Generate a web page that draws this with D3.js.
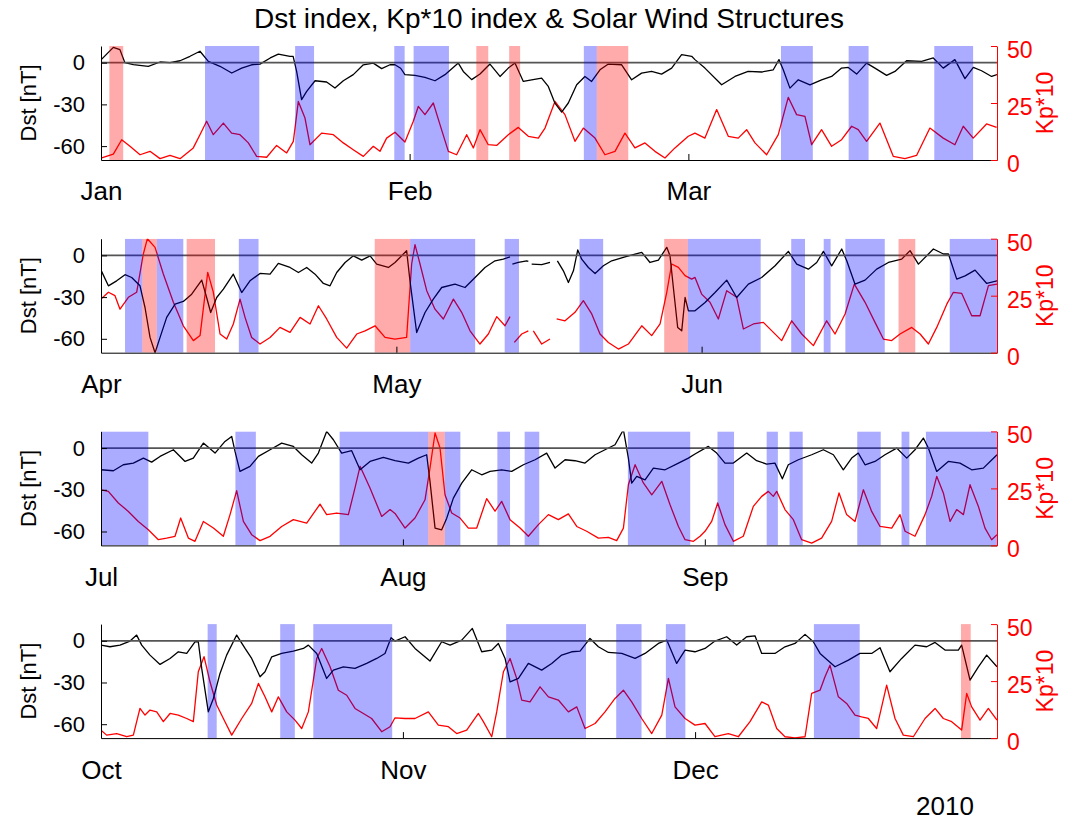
<!DOCTYPE html>
<html>
<head>
<meta charset="utf-8">
<script src="https://cdn.jsdelivr.net/npm/d3@7"></script>
<style>
  body { margin: 0; background: #fff; }
  svg { display: block; font-family: "Liberation Sans", Arial, sans-serif; }
</style>
</head>
<body>
<svg id="chart" width="1083" height="824"></svg>
<script>
// ---- Labels and ticks ----
const title = "Dst index, Kp*10 index & Solar Wind Structures";
const year = 2009;
const quarterStart = [0, 3, 6, 9];            // month index of each panel's first month
const monthNames = ["Jan","Feb","Mar","Apr","May","Jun","Jul","Aug","Sep","Oct","Nov","Dec"];
const dstTicks = [-60, -30, 0];
const kpTicks = [0, 25, 50];
const dstDomain = [-70, 12];
const kpDomain = [0, 50];
const yearLabel = "2010";

// ---- Dst [nT]: [day of quarter, value]; null marks a data gap ----
const dstQ1 = [[0,2],[1.24,11],[1.9,9.4],[2.4,0],[3.25,-1.4],[4.75,-2.6],[5.93,0.5],[6.93,0],[7.94,1.4],[8.94,4.6],[9.94,8.2],[10.78,1],[11.95,-2.6],[13.13,-7.4],[14.13,-3.9],[15.13,-1.5],[15.97,-1],[17,3.4],[17.81,6.2],[18.98,4.6],[19.3,4.6],[19.65,-6.3],[20.15,-26.6],[20.66,-20.6],[21.5,-13],[22.66,-13.9],[23.5,-18.2],[24.34,-13],[25.34,-8.6],[26.35,-1.5],[27.35,-0.3],[28.19,-4.3],[29.03,-1.5],[29.53,-1.5],[30.1,-4],[30.53,-8.6],[31.54,-9.1],[32.54,-10.6],[33.55,-13],[34.55,-8.6],[35.89,-0.3],[36.39,-6.3],[37.23,-12.2],[38.07,-8.2],[39.07,-1],[40.08,-9.9],[40.91,-3.9],[41.58,-0.3],[42.42,-13.5],[43.26,-12.3],[44.26,-11.1],[44.93,-17.1],[45.6,-29.1],[46.27,-35.5],[46.94,-29],[47.78,-15.9],[48.61,-9.9],[49.28,-13.5],[50.12,-5.1],[50.96,-1],[52.3,-1.5],[53.3,-12.3],[54.3,-7.5],[55.3,-6.3],[56.31,-8.2],[57.32,-3.9],[58.32,5.8],[59.33,4.6],[59.66,2.2],[60.66,-3.9],[62.34,-15.9],[63.68,-9.9],[65,-6.3],[66.36,-6.7],[67.53,-5.1],[68.1,2.2],[68.53,-5.1],[69.2,-18.3],[70.04,-12.3],[71.21,-15.9],[72.38,-12.3],[73.39,-9.9],[74.39,-3.9],[75.06,-3.4],[75.9,-8.2],[76.9,-0.3],[77.74,-3.9],[78.91,-9.1],[79.75,-6.3],[80.92,1.4],[82.43,1],[83.6,3.4],[84.6,-3.9],[85.77,2.2],[86.78,-11.5],[87.62,-3.4],[88.45,-5.8],[89.46,-9.9],[90,-8.6]];
const dstQ2 = [[0,-10.6],[0.75,-21.9],[1.59,-18.3],[2.44,-13.9],[3.12,-15.9],[3.96,-21.9],[4.47,-37.5],[4.98,-59],[5.49,-70],[6,-59],[6.67,-44.6],[7.52,-35],[8.36,-33.1],[9.21,-27.9],[10.23,-17.8],[10.73,-30.3],[11.14,-41.1],[11.75,-30.3],[12.43,-24.3],[13.44,-13.5],[14.29,-26.7],[15.13,-18.3],[16.15,-13],[17.17,-13.5],[18.01,-5.8],[19.2,-8.7],[20.05,-12.3],[20.89,-8.7],[21.74,-13.5],[22.59,-20.2],[23.26,-21.9],[23.94,-12.3],[24.79,-5.1],[25.63,-0.3],[26.48,-3.4],[27.33,-0.3],[28,-6.3],[29.19,-8.7],[29.86,-5.1],[30.54,-0.3],[31.04,3.4],[31.38,-18.3],[32.06,-55.5],[32.91,-41.1],[33.75,-31.5],[34.6,-23.1],[35.95,-20.7],[36.97,-23.1],[37.99,-15.9],[39,-8.7],[40.02,-3.9],[40.86,-2.7],[41.54,-1],[41.66,null],[41.78,-6.3],[42.39,-5.1],[43.23,-3.9],[43.4,-4.3],[43.55,null],[43.74,-6.3],[44.76,-6.7],[45.6,-5.1],[46,null],[46.35,-3.9],[46.96,-11.1],[47.47,-19.5],[47.98,-11.1],[48.42,3.9],[48.82,-2.7],[49.5,-8.7],[50.18,-13],[51.02,-7.5],[51.87,-3.9],[53.22,-1],[54.92,2.2],[55.76,-5.1],[56.61,-3.4],[57.46,5.8],[57.79,-0.3],[58.13,-23.1],[58.57,-51.9],[58.98,-54.3],[59.32,-30.3],[59.66,-39.9],[60.33,-39.9],[61.35,-33.9],[62.36,-26.7],[63.55,-17.8],[64.56,-30.3],[65.75,-20.7],[67.1,-15.9],[68.46,-7.5],[69.81,2.9],[70.66,-6.3],[71.84,-9.9],[72.69,-5.1],[73.37,2.9],[74.21,-7.5],[75.23,4.6],[75.74,-3.9],[76.58,-20.7],[77.6,-17.8],[78.78,-9.9],[79.97,-5.1],[81.32,-2.7],[82.17,3.4],[83.02,-6.3],[84.54,4.6],[85.56,1],[86.07,1],[86.91,-17.1],[87.76,-14.7],[88.77,-10.6],[89.96,-20.2],[91,-18.3]];
const dstQ3 = [[0,-15.6],[1.27,-16.3],[2.29,-12],[3.32,-10.8],[4.35,-7.2],[5.2,-10.1],[6.06,-6],[7.43,-1.2],[8.63,-9.6],[9.48,-7.2],[10.51,3.6],[11.71,-3.6],[12.73,4.8],[13.42,8.4],[13.76,-2.4],[14.27,-16.8],[15.3,-13.2],[16.16,-6],[17.36,-1.2],[18.55,3.6],[19.75,1.2],[20.61,-4.8],[21.63,-10.8],[22.32,-3.6],[23.17,12],[23.86,6],[24.71,-3.6],[25.74,-1.9],[26.6,-15.6],[27.62,-9.6],[28.99,-6.7],[30.19,-9.1],[31.56,-10.8],[32.59,-7.2],[33.44,-4.8],[33.78,-24],[34.3,-57.6],[34.98,-58.8],[35.5,-50.4],[36.18,-36],[37.04,-25.2],[38.06,-15.6],[39.09,-19.2],[39.95,-16.8],[41.14,-15.6],[42.17,-16.8],[43.37,-12],[44.57,-8.4],[45.76,-3.6],[46.62,-14.4],[47.65,-8.4],[48.67,-9.1],[49.7,-10.8],[50.73,-4.8],[51.75,-1.2],[52.78,2.4],[53.64,13.2],[54.15,-7.2],[54.49,-25.2],[55.01,-20.4],[55.86,-22.8],[56.72,-14.4],[57.92,-15.6],[59.29,-10.8],[60.31,-7.2],[60.99,-4.3],[62.36,1.2],[63.22,-3.6],[64.07,-10.8],[64.93,-10.8],[66.3,-3.6],[67.32,-9.1],[68.35,-11.5],[69.2,-10.8],[69.96,-22.1],[70.57,-12],[71.6,-8.4],[72.97,-4.8],[74.17,-1.2],[75.2,-4.8],[76.22,-15.6],[77.08,-7.2],[77.76,-3.6],[78.45,-12],[79.47,-9.6],[80.5,-4.8],[81.7,0],[82.73,-7.2],[83.58,-1.2],[84.44,7.2],[84.95,0],[85.81,-16.8],[87,-9.6],[88.2,-10.8],[89.4,-15.6],[90.6,-14.4],[92,-4.8]];
const dstQ4 = [[0,-3.1],[0.92,-4.3],[1.95,-3.1],[2.98,-0.2],[3.66,4.1],[4.18,-3.1],[5.03,-10.3],[6.06,-17],[7.09,-12.7],[7.94,-7.9],[8.8,-9.1],[9.65,-0.7],[9.99,-0.7],[10.34,-19.9],[11.02,-51.1],[11.54,-41.5],[12.22,-23.5],[12.9,-10.3],[13.93,4.1],[14.79,-5.5],[15.47,-12.7],[16.33,-25.9],[16.84,-22.3],[17.53,-11.5],[18.55,-9.1],[19.75,-7.4],[20.78,-5.5],[21.29,-3.1],[22.15,-9.1],[23.17,-27.1],[23.86,-21.1],[24.89,-18.7],[26.08,-19.9],[27.28,-16.3],[28.31,-12.7],[29.16,-9.1],[29.78,2.2],[30.19,-0.2],[31.22,2.9],[32.24,-5.5],[33.78,-14.6],[34.98,-0.7],[35.84,-3.1],[37.04,0.5],[38.13,8.9],[39.09,-7.9],[40.12,-6.7],[40.8,-1.9],[41.49,-12.7],[42,-29.5],[42.86,-27.1],[43.88,-16.3],[45.25,-21.1],[46.28,-16.3],[47.3,-10.3],[48.33,-7.9],[49.19,-7.4],[50.21,1.7],[51.07,-4.3],[52.1,-8.4],[53.47,-9.1],[54.84,-12.7],[55.86,-9.1],[57.23,-1.9],[58.09,0.5],[59.11,-16.3],[59.97,-6.7],[60.99,-7.9],[62.02,-5.5],[63.04,-0.2],[64.24,2.9],[65.27,-3.1],[66.3,2.9],[67.15,3.6],[67.84,-9.1],[69.2,-9.1],[70.23,-4.3],[71.26,-1.9],[72.29,4.6],[73.14,-0.7],[73.83,-9.1],[75.37,-18.7],[76.74,-13.9],[77.93,-9.1],[79.13,-9.1],[79.99,-5],[81.01,-22.3],[82.21,-12.7],[83.58,-3.1],[84.78,-4.3],[85.64,-1.2],[86.66,-6.7],[88.03,-6.7],[88.37,-3.1],[89.23,-28.3],[90.09,-18.7],[90.94,-10.3],[92,-18.7]];

// ---- Kp*10: [day of quarter, value]; null marks a data gap ----
const kpQ1 = [[0.07,0.9],[1.24,2.6],[2.08,8.9],[2.91,6],[3.92,2.3],[4.92,3.8],[5.93,0.6],[6.93,2],[7.94,0.6],[9.27,5.3],[9.94,11.1],[10.61,17],[11.28,11.1],[12.29,16.2],[13.12,11.8],[13.96,11.1],[14.8,7.5],[15.63,1.6],[16.64,1.2],[17.64,6.4],[18.65,3.1],[19.32,8.2],[19.82,25.7],[20.49,18.4],[20.99,6.7],[22.16,11.8],[23.34,11.1],[24.34,7.5],[25.34,4.5],[26.35,1.6],[27.35,6],[28.02,3.8],[28.69,9.6],[29.53,12.2],[30.53,7.9],[31.37,17],[31.87,23.5],[32.54,19.9],[33.38,25],[34.05,15.5],[34.89,3.8],[35.72,2.3],[36.73,11.1],[37.4,5.3],[38.07,13.3],[38.9,6.7],[39.74,6.4],[40.91,11.1],[41.92,14.3],[42.92,10.4],[43.93,9.6],[44.6,14],[45.6,25.7],[46.6,19.9],[47.61,8.2],[48.45,14],[49.62,9.6],[50.62,2.3],[51.63,3.8],[52.63,11.8],[53.63,5.3],[54.64,7.5],[55.64,3.8],[56.65,0.9],[57.65,5.3],[58.99,10.4],[59.66,11.8],[60.66,9.6],[61.84,22.1],[63.01,10.4],[64.01,9.6],[64.85,13.3],[65.69,7.5],[66.86,2.3],[68.03,11.1],[69.03,27.5],[69.87,19.9],[70.71,19.1],[71.38,6.7],[72.38,13.3],[73.39,6],[74.39,8.9],[75.4,14.8],[76.06,13.3],[76.9,8.2],[78.24,16.2],[79.58,1.6],[80.75,0.6],[81.92,2],[83.26,14],[84.6,9.6],[85.77,6.7],[86.61,14.8],[87.61,9.6],[88.95,15.8],[89.96,14.3]];
const kpQ2 = [[0,23.5],[0.75,26.5],[1.42,25],[1.93,19.1],[2.78,24.3],[3.62,26.5],[4.3,43.3],[4.71,50],[5.49,46.2],[6.33,34.5],[7.35,22.1],[8.36,11.8],[9.38,5.3],[10.06,7.5],[10.84,35.2],[11.41,26.5],[12.09,8.2],[12.77,6],[13.44,12.6],[14.12,23.5],[14.63,15.5],[15.3,6.7],[16.15,3.8],[17.17,6.7],[18.18,11.1],[19.2,8.9],[20.22,15.5],[21.23,12.6],[22.08,20.6],[22.92,14.8],[23.94,6.7],[24.95,2],[25.97,8.2],[26.82,9.6],[27.83,11.8],[28.85,6.7],[29.86,6],[31.04,6.7],[31.55,38.9],[31.89,47.4],[32.4,38.9],[33.08,27.2],[33.92,19.1],[34.77,14.8],[35.79,23.5],[36.63,17.7],[37.48,9.6],[38.49,3.8],[39.34,8.2],[40.19,15.8],[41.03,11.8],[41.54,15.8],[41.66,null],[41.98,4.5],[42.73,8.2],[43.4,9.6],[43.55,null],[43.91,9.6],[44.76,3.8],[45.6,6],[46,null],[46.28,14.8],[47.13,14],[48.14,17.7],[48.99,22.8],[49.84,17],[50.68,8.2],[51.53,4.5],[52.55,1.6],[53.56,3.8],[54.92,11.8],[55.93,7.5],[56.78,12.6],[57.46,26.5],[57.96,38.9],[58.64,37.4],[59.32,33.8],[59.99,32.3],[60.33,33],[61,25.7],[61.85,22.1],[62.7,14.8],[63.55,27.2],[64.56,24.3],[65.24,10.4],[66.26,12.6],[67.27,13.3],[68.29,8.9],[69.13,5.3],[70.15,14],[71.17,8.2],[72.35,3.1],[73.7,14],[74.55,8.2],[75.57,17],[76.51,30.1],[77.6,22.1],[78.61,13.3],[79.46,6],[80.31,5.3],[81.15,8.2],[82.34,11.1],[83.19,8.2],[84.03,3.8],[84.88,11.1],[85.9,21.3],[86.57,26.5],[87.42,26],[88.43,16.2],[89.28,16.2],[90.13,29.4],[91,30.1]];
const kpQ3 = [[0,24.4],[0.75,23.7],[1.78,18.6],[2.81,14.9],[3.83,10.5],[4.86,6.9],[5.89,2.5],[6.74,3.2],[7.6,4],[8.18,12],[8.97,3.2],[9.65,1.8],[10.51,10.5],[11.54,7.6],[12.56,4],[13.25,13.5],[13.93,24],[14.62,10.5],[15.47,4.7],[16.33,2.1],[17.36,4],[18.55,8.3],[19.75,11.3],[21.12,9.8],[22.49,18.1],[23.17,13.5],[24.2,14.2],[25.4,13.5],[26.08,25.2],[26.6,34.7],[27.62,25.2],[28.82,12.7],[29.68,15.7],[30.19,14],[31.22,7.6],[32.24,12],[33.27,20],[33.78,33.9],[34.3,49.3],[34.81,42.7],[35.32,22.2],[36.01,14.2],[36.87,12],[37.72,7.6],[38.58,7.6],[39.6,20.5],[40.46,15],[41.14,19.3],[42,11.3],[43.03,7.6],[43.88,4],[44.91,9.1],[45.94,13.5],[46.96,11.3],[47.99,13.8],[48.85,8.3],[49.87,6.2],[51.07,3.2],[52.1,3.5],[52.95,2.1],[53.64,7.6],[54.15,26.6],[54.84,35.4],[55.69,27.4],[56.55,22.2],[57.58,28.1],[58.43,17.8],[59.29,8.3],[59.97,2.5],[60.83,1.8],[61.51,4],[62.02,6.2],[62.7,10.5],[63.32,18.6],[64.07,9.1],[64.93,1.8],[65.95,4],[66.98,17.1],[67.84,21.5],[68.52,23.7],[69.03,21.5],[69.38,23.7],[70.23,15.7],[71.09,11.3],[71.94,2.5],[72.97,1],[73.99,3.2],[75.02,10.5],[75.78,23],[76.56,13.5],[77.42,10.5],[78.28,24.4],[79.13,14.9],[79.99,8.3],[81.19,7.6],[82.04,13.5],[82.56,6.2],[83.58,4],[84.61,13.5],[85.29,21.5],[85.81,30.3],[86.49,23],[87.18,10.5],[87.86,15.7],[88.55,13.5],[89.23,26.6],[90.09,17.1],[90.77,7.6],[91.45,2.5],[92,4.7]];
const kpQ4 = [[0,3.5],[0.58,1.3],[1.61,2],[2.64,0.6],[3.32,1.3],[4,13],[4.52,10.1],[5.03,12.3],[5.72,11.5],[6.4,7.2],[7.09,10.8],[7.94,10.1],[8.8,8.6],[9.48,7.2],[9.99,29.1],[10.58,35.7],[11.19,24.7],[11.88,14.5],[12.73,7.2],[13.42,1.3],[14.45,8.6],[15.47,15.2],[16.16,24],[16.84,18.1],[17.53,11.5],[18.21,18.1],[19.07,11.5],[19.92,7.9],[20.61,4.2],[21.29,11.5],[22.15,34.9],[22.66,39.3],[23.52,31.3],[24.37,21],[25.23,18.8],[26.08,13],[26.94,10.8],[27.79,8.6],[28.82,2.8],[29.68,5],[30.19,8.9],[31.22,8.6],[32.24,8.6],[33.61,11.5],[34.64,5.7],[35.67,5],[36.52,2],[37.55,3.5],[38.75,10.8],[39.26,7.2],[40.12,0.6],[40.63,11.5],[41.32,29.1],[42,34.9],[42.68,26.2],[43.2,16.7],[44.05,15.9],[45.08,22.5],[45.94,18.1],[46.96,16.7],[47.99,11.5],[48.85,13.7],[49.7,4.2],[50.73,6.4],[51.75,11.5],[52.78,17.4],[53.64,21],[54.49,15.9],[55.52,8.6],[56.55,2],[57.58,10.1],[58.26,26.2],[58.94,13.7],[59.97,8.6],[60.99,5.7],[62.02,6.4],[63.04,0.6],[64.41,2],[65.44,0.6],[66.64,7.2],[67.84,15.9],[68.52,14.5],[69.38,4.2],[70.23,0.6],[71.26,0.1],[72.29,0.6],[72.97,19.6],[73.83,21],[74.34,26.9],[74.85,32],[75.71,18.1],[76.56,15.2],[77.42,10.1],[78.1,9.3],[78.79,8.6],[79.64,4.2],[80.67,23.2],[81.53,8.6],[82.38,1.3],[83.41,0.6],[84.61,8.6],[85.64,13],[86.49,8.6],[87.35,7.2],[88.37,3.5],[88.89,19.6],[89.4,13.7],[90.26,7.9],[91.11,13],[92,7.9]];

// ---- Solar wind structure intervals: [start day, end day] of each quarter ----
const blueQ1 = [[10.45,15.9],[19.5,21.4],[29.46,30.5],[31.4,34.95],[48.5,49.8],[68.3,71.5],[75.1,77.1],[83.7,87.6]];
const redQ1  = [[0.84,2.23],[37.7,38.9],[41.0,42.1],[49.8,52.96]];
const blueQ2 = [[2.44,4.2],[5.66,8.36],[14.0,16.0],[31.4,38.0],[41.0,42.45],[48.6,51.0],[59.6,67.0],[70.1,71.5],[73.4,74.1],[75.6,79.6],[86.2,91]];
const redQ2  = [[4.2,5.66],[8.7,11.58],[27.8,31.4],[57.2,59.6],[81.0,82.7]];
const blueQ3 = [[0,4.86],[13.8,15.9],[24.5,33.6],[35.3,36.9],[40.7,42.0],[43.5,45.0],[54.1,60.5],[63.3,65.0],[68.35,69.5],[70.7,72.05],[77.65,80.06],[82.2,83.0],[84.7,92]];
const redQ3  = [[33.6,35.3]];
const blueQ4 = [[10.95,11.88],[18.4,19.9],[21.8,29.9],[41.6,49.8],[52.9,55.5],[58.0,60.0],[73.2,77.9]];
const redQ4  = [[88.3,89.3]];

const panels = [
  { dst: dstQ1, kp: kpQ1, blue: blueQ1, red: redQ1 },
  { dst: dstQ2, kp: kpQ2, blue: blueQ2, red: redQ2 },
  { dst: dstQ3, kp: kpQ3, blue: blueQ3, red: redQ3 },
  { dst: dstQ4, kp: kpQ4, blue: blueQ4, red: redQ4 }
];

// ---- Layout ----
const plotLeft = 101, plotRight = 997;
const firstTop = 46, panelHeight = 114, panelStep = 192.7;
const red = "#ff0000";
const numFont = "22px";
const monthFont = "26px";

const svg = d3.select("#chart");

svg.append("text")
  .attr("x", (plotLeft + plotRight) / 2)
  .attr("y", 28)
  .attr("text-anchor", "middle")
  .style("font-size", "28px")
  .attr("fill", "#000")
  .text(title);

panels.forEach((p, i) => {
  const top = firstTop + i * panelStep;
  const bottom = top + panelHeight;
  const m0 = quarterStart[i];
  const t0 = Date.UTC(year, m0, 1);
  const t1 = Date.UTC(year, m0 + 3, 1);
  const toDate = d => new Date(t0 + d * 864e5);

  const x = d3.scaleUtc().domain([t0, t1]).range([plotLeft, plotRight]);
  const yDst = d3.scaleLinear().domain(dstDomain).range([bottom, top]);
  const yKp = d3.scaleLinear().domain(kpDomain).range([bottom, top]);

  const g = svg.append("g");

  const clipId = "clip" + i;
  g.append("clipPath").attr("id", clipId)
    .append("rect")
    .attr("x", plotLeft).attr("y", top)
    .attr("width", plotRight - plotLeft).attr("height", panelHeight);

  const plot = g.append("g").attr("clip-path", `url(#${clipId})`);

  // Kp*10 trace
  plot.append("path")
    .datum(p.kp)
    .attr("fill", "none")
    .attr("stroke", red)
    .attr("stroke-width", 1.3)
    .attr("stroke-linejoin", "round")
    .attr("d", d3.line()
      .defined(d => d[1] !== null)
      .x(d => x(toDate(d[0])))
      .y(d => yKp(d[1])));

  // Dst trace
  plot.append("path")
    .datum(p.dst)
    .attr("fill", "none")
    .attr("stroke", "#000")
    .attr("stroke-width", 1.3)
    .attr("stroke-linejoin", "round")
    .attr("d", d3.line()
      .defined(d => d[1] !== null)
      .x(d => x(toDate(d[0])))
      .y(d => yDst(d[1])));

  // Dst = 0 reference line
  plot.append("line")
    .attr("x1", plotLeft).attr("x2", plotRight)
    .attr("y1", yDst(0)).attr("y2", yDst(0))
    .attr("stroke", "#555")
    .attr("stroke-width", 1.8);

  // Structure intervals, translucent over the traces
  const spans = (data, color) => plot.append("g")
    .selectAll("rect")
    .data(data)
    .join("rect")
    .attr("x", d => x(toDate(d[0])))
    .attr("width", d => x(toDate(d[1])) - x(toDate(d[0])))
    .attr("y", top)
    .attr("height", panelHeight)
    .attr("fill", color)
    .attr("fill-opacity", 0.33);
  spans(p.blue, "#0000ff");
  spans(p.red, "#ff0000");

  // Bottom (time) axis
  const monthTicks = d3.range(3).map(k => new Date(Date.UTC(year, m0 + k, 1)));
  const xAxis = g.append("g")
    .attr("transform", `translate(0,${bottom})`)
    .attr("color", "#000")
    .call(d3.axisBottom(x)
      .tickValues(monthTicks)
      .tickSizeInner(-6).tickSizeOuter(0)
      .tickPadding(22)
      .tickFormat(d => monthNames[d.getUTCMonth()]));
  xAxis.selectAll("text").style("font-size", monthFont);

  // Left (Dst) axis
  const yAxisL = g.append("g")
    .attr("transform", `translate(${plotLeft},0)`)
    .attr("color", "#000")
    .call(d3.axisLeft(yDst)
      .tickValues(dstTicks)
      .tickSizeInner(-6).tickSizeOuter(0)
      .tickPadding(16)
      .tickFormat(d => String(d)));
  yAxisL.selectAll("text").style("font-size", numFont);

  // Right (Kp*10) axis
  const yAxisR = g.append("g")
    .attr("transform", `translate(${plotRight},0)`)
    .attr("color", red)
    .call(d3.axisRight(yKp)
      .tickValues(kpTicks)
      .tickSizeInner(-6).tickSizeOuter(0)
      .tickPadding(10)
      .tickFormat(d => String(d)));
  yAxisR.selectAll("text").style("font-size", "23px").attr("dy", "0.5em");

  // Axis titles
  const midY = (top + bottom) / 2;
  g.append("text")
    .attr("transform", `translate(36,${midY}) rotate(-90)`)
    .attr("text-anchor", "middle")
    .style("font-size", "22px")
    .attr("fill", "#000")
    .text("Dst [nT]");
  g.append("text")
    .attr("transform", `translate(1053,${midY}) rotate(-90)`)
    .attr("text-anchor", "middle")
    .style("font-size", "23px")
    .attr("fill", red)
    .text("Kp*10");
});

// Year marker under the last panel's time axis
svg.append("text")
  .attr("x", 945)
  .attr("y", 815)
  .attr("text-anchor", "middle")
  .style("font-size", monthFont)
  .attr("fill", "#000")
  .text(yearLabel);
</script>
</body>
</html>
